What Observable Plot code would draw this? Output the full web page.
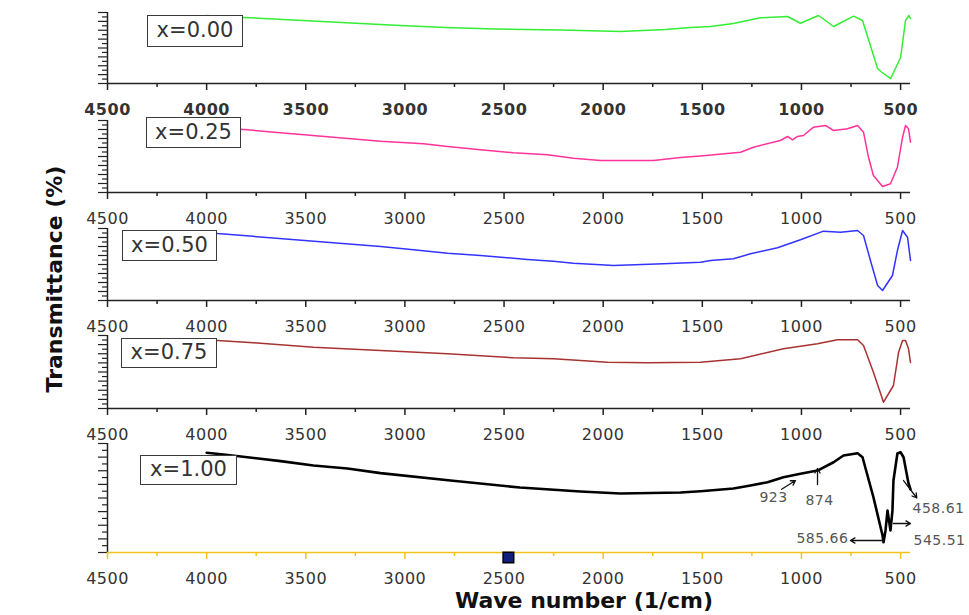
<!DOCTYPE html>
<html>
<head>
<meta charset="utf-8">
<script src="https://cdn.jsdelivr.net/npm/d3@7"></script>
<script src="https://cdn.jsdelivr.net/npm/@observablehq/plot@0.6"></script>
<style>
  body { margin: 0; background: #fff; }
  #chart { position: relative; width: 969px; height: 615px; overflow: hidden; font-family: "DejaVu Sans", sans-serif; background: #fff; }
  #chart svg { position: absolute; left: 0; }
  .box { position: absolute; box-sizing: border-box; border: 1.5px solid #3a3a3a; background: #fff; color: #333;
         font-size: 21px; text-align: center; z-index: 5; }
  .title { position: absolute; font-weight: bold; font-size: 22px; color: #111; white-space: nowrap; z-index: 5; }
</style>
</head>
<body>
<div id="chart"></div>
<script>
// ---------------- data ----------------
const sampleLabels = ["x=0.00", "x=0.25", "x=0.50", "x=0.75", "x=1.00"];

const wave00  = [4000,3814,3123,3022,2795,2543,2215,2013,1913,1686,1560,1459,1343,1207,1070,1005,914,838,737,692,616,600,550,500,475,458,450];
const trans00 = [95.8,93.0,83.1,81.7,78.9,76.8,75.4,73.9,73.2,76.1,78.9,80.3,84.5,92.5,94.4,84.9,95.8,80.3,94.8,88.7,21.1,16.9,7.0,36.6,88.7,95.8,91.5];

const wave25  = [4000,3814,3123,2906,2785,2619,2452,2281,2150,2013,1746,1610,1509,1307,1242,1106,1070,1045,1020,990,939,879,838,768,717,687,662,637,591,551,516,490,475,460,450];
const trans25 = [90.3,87.5,71.3,67.6,63.9,59.3,55.1,52.4,47.6,44.4,44.4,48.6,50.7,56.0,62.9,72.2,77.8,73.2,77.8,79.2,90.7,93.1,86.1,88.5,93.1,83.8,49.0,23.6,8.3,12.1,35.1,76.8,93.1,88.5,69.9];

const wave50  = [4000,3945,3123,2957,2785,2619,2382,2251,2150,2013,1948,1696,1509,1459,1343,1257,1121,1005,889,803,717,687,652,616,591,541,516,490,465,450];
const trans50 = [95.8,93.1,75.0,70.4,65.7,62.5,56.9,54.6,51.8,49.6,48.6,51.0,53.2,55.6,57.9,64.9,73.2,84.3,96.3,94.9,97.2,90.3,55.6,20.8,13.9,34.7,69.4,97.2,87.9,55.6];

const wave75  = [4000,3945,3764,3461,3123,2785,2452,2251,1978,1776,1509,1307,1091,919,818,717,687,637,586,536,510,490,475,460,450];
const trans75 = [94.5,93.2,90.0,84.0,79.5,74.9,69.5,68.1,63.4,62.6,63.4,68.1,81.8,88.6,94.1,94.1,86.3,49.7,8.6,31.5,77.1,93.2,93.2,81.8,63.0];

const wave100  = [4000,3915,3794,3627,3461,3290,3123,2770,2420,2115,1913,1610,1509,1343,1257,1171,1091,1005,919,838,788,717,692,637,591,586,576,566,561,551,541,536,516,500,485,460,450];
const trans100 = [91.5,89.9,87.4,83.8,79.8,77.1,72.8,66.1,59.6,56.0,54.1,55.0,56.2,58.7,61.5,64.5,69.1,72.2,75.2,82.8,89.0,91.1,87.4,50.7,15.6,9.4,20.2,38.5,32.4,20.2,38.5,66.1,90.8,92.0,87.4,63.3,58.0];

const xMajorTicks = [4500,4000,3500,3000,2500,2000,1500,1000,500];
const xMinorTicks = [4250,3750,3250,2750,2250,1750,1250,750];
const yMajorTicks = [0,12.5,25,37.5,50,62.5,75,87.5,100];
const yMinorTicks = [6.25,18.75,31.25,43.75,56.25,68.75,81.25,93.75];

// peak annotations (bottom panel)
const peakText  = ["923", "874", "585.66", "545.51", "458.61"];
const peakWave  = [1141, 909, 763, 435, 440];
const peakTrans = [50.5, 47.7, 12.8, 11.0, 40.4];
const arrowWave1  = [1100, 919, 586, 536, 485];
const arrowTrans1 = [58.0, 62.4, 11.0, 26.6, 66.0];
const arrowWave2  = [1030, 919, 753, 450, 418];
const arrowTrans2 = [66.0, 77.1, 11.0, 26.6, 50.0];
const markerWave = [2478];

// ---------------- layout ----------------
const series = [
  {wave: wave00,  trans: trans00,  color: "#33ee33", sw: 1.5, top: 12,  bottom: 83,  axis: "#222", bold: true},
  {wave: wave25,  trans: trans25,  color: "#ff3399", sw: 1.5, top: 120, bottom: 192, axis: "#222", bold: false},
  {wave: wave50,  trans: trans50,  color: "#3333ff", sw: 1.5, top: 228, bottom: 300, axis: "#222", bold: false},
  {wave: wave75,  trans: trans75,  color: "#a83232", sw: 1.5, top: 335, bottom: 408, axis: "#222", bold: false},
  {wave: wave100, trans: trans100, color: "#000000", sw: 2.6, top: 443, bottom: 552, axis: "#f5c21b", bold: false}
];
const boxes = [
  {left: 147, top: 15,  w: 96, h: 32},
  {left: 146, top: 117, w: 95, h: 31},
  {left: 122, top: 230, w: 95, h: 31},
  {left: 121, top: 338, w: 96, h: 30},
  {left: 140, top: 455, w: 97, h: 30}
];

const chart = document.getElementById("chart");
const mt = 6, mb = 34;

series.forEach((s, i) => {
  const data = s.wave.map((w, j) => ({wave: w, trans: s.trans[j]}));
  const marks = [
    Plot.axisY(yMajorTicks, {tickSize: 9, tickFormat: () => "", label: null, stroke: "#222", strokeWidth: 1.2}),
    Plot.axisY(yMinorTicks, {tickSize: 5, tickFormat: () => "", label: null, stroke: "#222", strokeWidth: 1.2}),
    Plot.ruleX([4500], {stroke: "#222", strokeWidth: 1.5}),
    Plot.ruleY([0], {stroke: s.axis, strokeWidth: 1.5}),
    Plot.axisX(xMajorTicks, {tickSize: 7, tickPadding: 13, stroke: s.axis, strokeWidth: 1.5, fill: "#333", label: null,
      fontSize: 16, fontWeight: s.bold ? "bold" : "normal", tickFormat: d => String(d)}),
    Plot.axisX(xMinorTicks, {tickSize: 4, tickFormat: () => "", label: null, stroke: s.axis, strokeWidth: 1.5}),
    Plot.line(data, {x: "wave", y: "trans", stroke: s.color, strokeWidth: s.sw, strokeLinejoin: "round"})
  ];
  if (i === 4) {
    const peaks = peakText.map((t, j) => ({t, x: peakWave[j], y: peakTrans[j]}));
    const arrows = arrowWave1.map((w, j) => ({x1: w, y1: arrowTrans1[j], x2: arrowWave2[j], y2: arrowTrans2[j]}));
    marks.push(
      Plot.arrow(arrows, {x1: "x1", y1: "y1", x2: "x2", y2: "y2", stroke: "#111", strokeWidth: 1.3, headLength: 6}),
      Plot.text(peaks.filter((d, j) => j < 2), {x: "x", y: "y", text: "t", fontSize: 14, fill: "#555", textAnchor: "middle"}),
      Plot.text(peaks.filter((d, j) => j === 2), {x: "x", y: "y", text: "t", fontSize: 14, fill: "#555", textAnchor: "end"}),
      Plot.text(peaks.filter((d, j) => j > 2), {x: "x", y: "y", text: "t", fontSize: 14, fill: "#555", textAnchor: "start"}),
      Plot.dot(markerWave, {x: d => d, y: () => 0, symbol: "square", r: 6, fill: "#10207a", stroke: "#000", strokeWidth: 1.5, dy: 5})
    );
  }
  const svg = Plot.plot({
    width: 969,
    height: s.bottom - s.top + mt + mb,
    marginLeft: 107, marginRight: 59, marginTop: mt, marginBottom: mb,
    x: {domain: [4500, 450], label: null},
    y: {domain: [0, 100], label: null},
    style: {background: "transparent", overflow: "visible", fontFamily: "DejaVu Sans", letterSpacing: "0.5px"},
    marks
  });
  svg.style.top = (s.top - mt) + "px";
  chart.appendChild(svg);
});

boxes.forEach((b, i) => {
  const d = document.createElement("div");
  d.className = "box";
  d.style.left = b.left + "px"; d.style.top = b.top + "px";
  d.style.width = b.w + "px"; d.style.height = b.h + "px";
  d.style.lineHeight = (b.h - 3) + "px";
  d.textContent = sampleLabels[i];
  chart.appendChild(d);
});

const yt = document.createElement("div");
yt.className = "title";
yt.textContent = "Transmittance (%)";
yt.style.left = "54px"; yt.style.top = "279px";
yt.style.transform = "translate(-50%, -50%) rotate(-90deg)";
chart.appendChild(yt);

const xt = document.createElement("div");
xt.className = "title";
xt.textContent = "Wave number (1/cm)";
xt.style.left = "584px"; xt.style.top = "600px";
xt.style.transform = "translate(-50%, -50%)";
chart.appendChild(xt);
</script>
</body>
</html>
